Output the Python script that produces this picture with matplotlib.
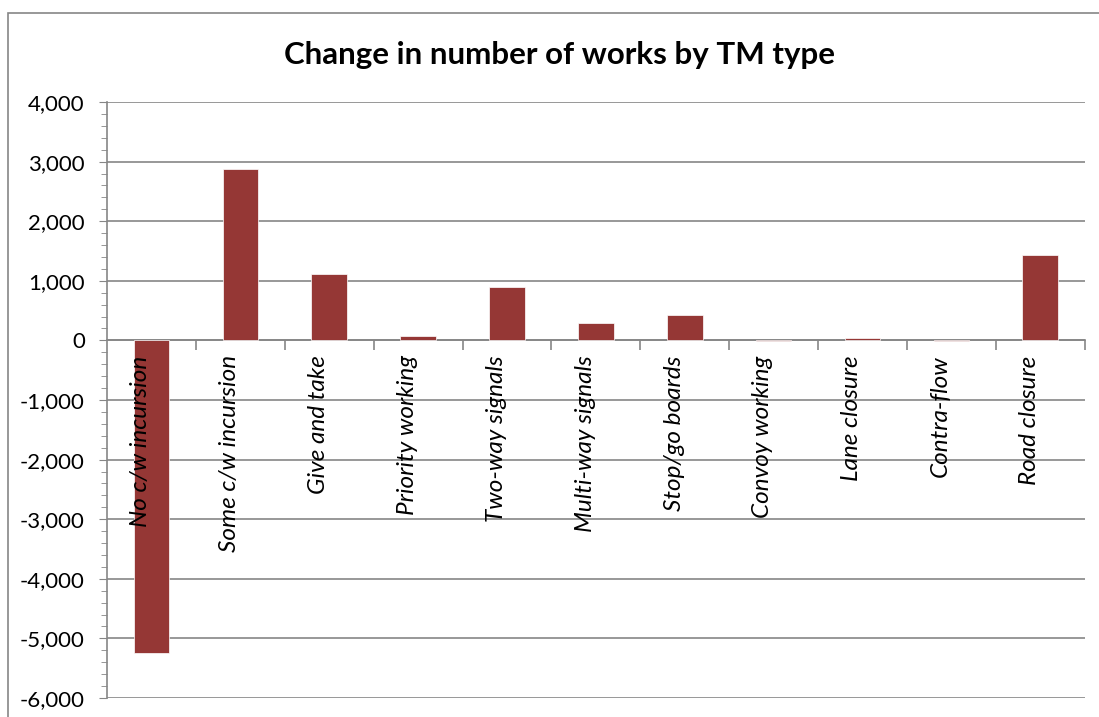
import matplotlib.pyplot as plt
from matplotlib.ticker import FuncFormatter, MultipleLocator
from matplotlib.patches import Rectangle

categories = ["No c/w incursion", "Some c/w incursion", "Give and take", "Priority working",
              "Two-way signals", "Multi-way signals", "Stop/go boards", "Convoy working",
              "Lane closure", "Contra-flow", "Road closure"]
changes = [-5250, 2870, 1110, 75, 900, 290, 420, -8, 40, -6, 1430]

plt.rcParams['font.family'] = ['Lato', 'DejaVu Sans']

fig = plt.figure(figsize=(10.99, 7.17), dpi=100)
ax = fig.add_axes([0.0974, 0.0265, 0.8896, 0.8312])

grey = '#868686'
x = list(range(len(categories)))
ax.bar(x, changes, width=0.4, color='#953735', edgecolor='white', linewidth=0.5, zorder=3)

ax.set_xlim(-0.5, len(categories) - 0.5)
ax.set_ylim(-6000, 4000)
ax.yaxis.set_major_locator(MultipleLocator(1000))
ax.yaxis.set_minor_locator(MultipleLocator(200))
ax.yaxis.set_major_formatter(FuncFormatter(lambda v, p: f"{int(v):,}"))
ax.grid(axis='y', color=grey, linewidth=1.2, zorder=0)
ax.tick_params(axis='y', which='major', length=6, color=grey, labelsize=16, pad=10)
ax.tick_params(axis='y', which='minor', length=4, color=grey)

# category axis drawn at zero
ax.spines['bottom'].set_position(('data', 0))
ax.spines['bottom'].set_color(grey)
ax.spines['bottom'].set_linewidth(1.2)
ax.spines['left'].set_color(grey)
ax.spines['left'].set_linewidth(1.2)
ax.spines['top'].set_visible(False)
ax.spines['right'].set_visible(False)
ax.set_xticks([i + 0.5 for i in range(len(categories))])
ax.set_xticklabels([])
ax.tick_params(axis='x', length=7, color=grey, width=1.2)

for i, name in enumerate(categories):
    ax.text(i - 0.12, -250, name, rotation=90, ha='center', va='top',
            fontsize=17.5, style='italic', zorder=4)

fig.text(0.509, 0.923, "Change in number of works by TM type", ha='center', va='center',
         fontsize=22.5, fontweight='bold')

fig.patches.append(Rectangle((0.007, -0.01), 1.5, 0.992, transform=fig.transFigure,
                             fill=False, edgecolor=grey, linewidth=1.2))

fig.savefig("out.png", dpi=100)
